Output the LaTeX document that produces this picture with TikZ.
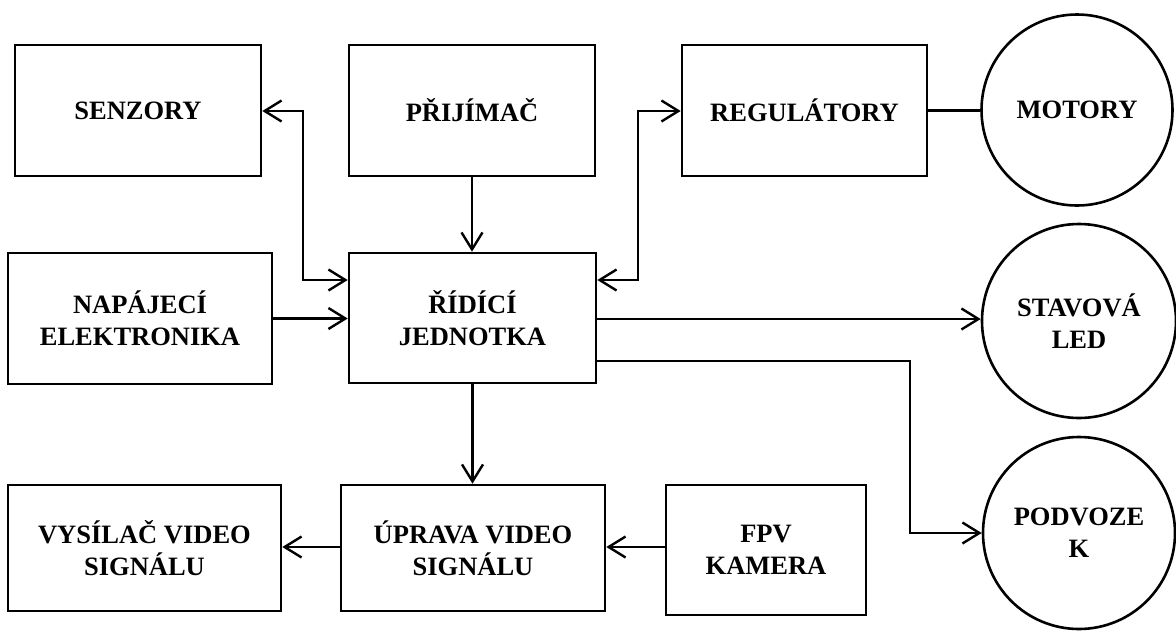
\documentclass[tikz,border=0pt]{standalone}
\usepackage{fontspec}
\setmainfont{Liberation Serif}
\usetikzlibrary{arrows.meta}
\begin{document}
\begin{tikzpicture}[x=1pt,y=-1pt,
  lw/.style={line width=2.6pt},
  blk/.style={draw,lw,rectangle,inner sep=0pt,align=center,
    font=\fontsize{26.5}{32}\selectfont\bfseries},
  crc/.style={draw,lw,circle,inner sep=0pt,align=center,
    font=\fontsize{26.5}{32}\selectfont\bfseries},
  tip/.tip={Straight Barb[length=17pt,width=21pt,line width=2.4pt]},
  conn/.style={lw,line join=miter,-tip},
  bconn/.style={lw,line join=miter,tip-tip},
  plain/.style={lw}]
\useasboundingbox (0,0) rectangle (1176,630);
% boxes
\node[blk,minimum width=246pt,minimum height=131pt] (senz) at (138,110.5) {SENZORY};
\node[blk,minimum width=246pt,minimum height=131pt] (prij) at (472,110.5) {PŘIJÍMAČ};
\node[blk,minimum width=245pt,minimum height=131pt] (reg) at (804.5,110.5) {REGULÁTORY};
\node[crc,minimum size=191pt] (mot) at (1077,110) {MOTORY};
\node[blk,minimum width=264pt,minimum height=131pt] (nap) at (140,318.5) {NAPÁJECÍ\\ELEKTRONIKA};
\node[blk,minimum width=247pt,minimum height=130pt] (rid) at (472.5,318) {ŘÍDÍCÍ\\JEDNOTKA};
\node[crc,minimum size=194pt] (stav) at (1079,321) {STAVOVÁ\\LED};
\node[blk,minimum width=273pt,minimum height=126pt] (vys) at (144.5,548) {VYSÍLAČ VIDEO\\SIGNÁLU};
\node[blk,minimum width=264pt,minimum height=126pt] (upr) at (473,548) {ÚPRAVA VIDEO\\SIGNÁLU};
\node[blk,minimum width=200pt,minimum height=130pt] (fpv) at (766,550) {FPV\\KAMERA};
\node[crc,minimum size=192pt] (podv) at (1079,533) {PODVOZE\\K};
% helper coordinates
\coordinate (s1) at (303,280);
\coordinate (s2) at (303,111);
\coordinate (r1) at (638,280);
\coordinate (r2) at (638,111);
\coordinate (l1) at (0,319);
\coordinate (p1) at (910,361);
\coordinate (v1) at (0,547);
% connectors
\draw[bconn] (rid.west |- s1) -- (s1) -- (s2) -- (senz.east |- s2);
\draw[bconn] (rid.east |- r1) -- (r1) -- (r2) -- (reg.west |- r2);
\draw[conn] (prij.south) -- (prij.south |- rid.north);
\draw[plain] (reg.east) -- (mot.west |- reg.east);
\draw[conn] (nap.east) -- (rid.west |- nap.east);
\draw[conn] (rid.east |- l1) -- (stav.west |- l1);
\draw[conn] (rid.east |- p1) -- (p1) |- (podv.west);
\draw[conn] (rid.south) -- (rid.south |- upr.north);
\draw[conn] (upr.west |- v1) -- (vys.east |- v1);
\draw[conn] (fpv.west |- v1) -- (upr.east |- v1);
\end{tikzpicture}
\end{document}
